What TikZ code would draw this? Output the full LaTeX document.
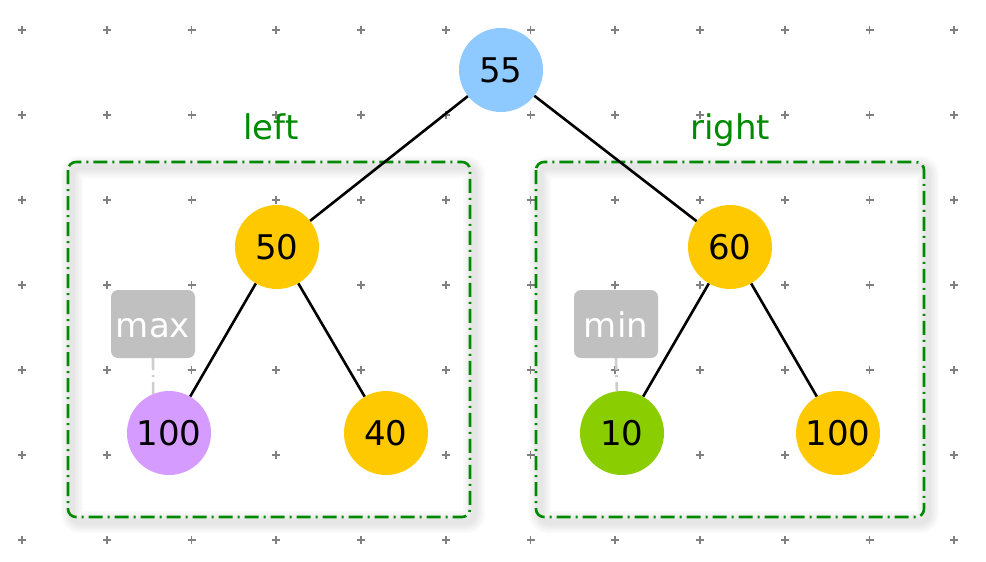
\documentclass[tikz,border=0pt]{standalone}
\usepackage{fontspec}
\setmainfont{DejaVu Sans}
\usetikzlibrary{positioning}

\definecolor{rootblue}{HTML}{8ECAFF}
\definecolor{heapyellow}{HTML}{FFC900}
\definecolor{maxpurple}{HTML}{D69BFF}
\definecolor{mingreen}{HTML}{8ACD00}
\definecolor{tagwhite}{HTML}{C0C0C0}
\definecolor{groupgreen}{HTML}{008A00}

\begin{document}
\begin{tikzpicture}[
    x=1pt, y=-1pt,
    font=\fontsize{34}{40}\selectfont,
    heap/.style={circle,fill=#1,minimum size=84pt,inner sep=0pt},
    tag/.style={rounded corners=7pt,fill=tagwhite,text=white,minimum width=84pt,minimum height=68pt,inner sep=0pt,text height=26pt,text depth=0pt},
    group/.style={draw=groupgreen,line width=2.6pt,rounded corners=8pt,dash pattern=on 14pt off 5pt on 2pt off 5pt},
    label/.style={text=groupgreen,anchor=base},
    line/.style={line width=2.6pt},
    pointer/.style={draw=tagwhite!80,line width=2.6pt,dash pattern=on 12pt off 5pt on 2pt off 5pt},
    gridmark/.style={draw=gray,line width=1.6pt}
]
\useasboundingbox (0,0) rectangle (986,562);

% Grid
\foreach \i in {0,...,11}
  \foreach \j in {0,...,6}
    \draw[gridmark] ({22+84.75*\i-4},{30+85*\j}) -- ++(8,0) ({22+84.75*\i},{30+85*\j-4}) -- ++(0,8);

% Groups (soft shadow first)
\foreach \w in {22,18,14,10,6}
{
  \draw[black,opacity=0.018,line width=\w pt,rounded corners=8pt] (72,167) rectangle (474,522);
  \draw[black,opacity=0.018,line width=\w pt,rounded corners=8pt] (540,167) rectangle (928,522);
}
\draw[group] (68,162) rectangle (470,517);
\draw[group] (536,162) rectangle (924,517);
\node[label] (L) at (271,139) {left};
\node[label] (R) at (730,139) {right};

% Tree
\node[heap=rootblue] (N55) at (501,70) {55};
\node[heap=heapyellow] (N50) at (277,247) {50};
\node[heap=heapyellow] (N60) at (730,247) {60};
\node[heap=maxpurple] (N100a) at (169,433) {100};
\node[heap=heapyellow] (N40) at (386,433) {40};
\node[heap=mingreen] (N10) at (622,433) {10};
\node[heap=heapyellow] (N100b) at (838,433) {100};

\draw[line] (N55) -- (N50);
\draw[line] (N55) -- (N60);
\draw[line] (N50) -- (N100a);
\draw[line] (N50) -- (N40);
\draw[line] (N60) -- (N10);
\draw[line] (N60) -- (N100b);

% Tags
\node[tag] (MAX) at (153,324) {max};
\node[tag] (MIN) at (616,324) {min};
\draw[pointer] (MAX.south) -- (N100a.112);
\draw[pointer] (MIN.south) -- (N10.97);

\end{tikzpicture}
\end{document}
